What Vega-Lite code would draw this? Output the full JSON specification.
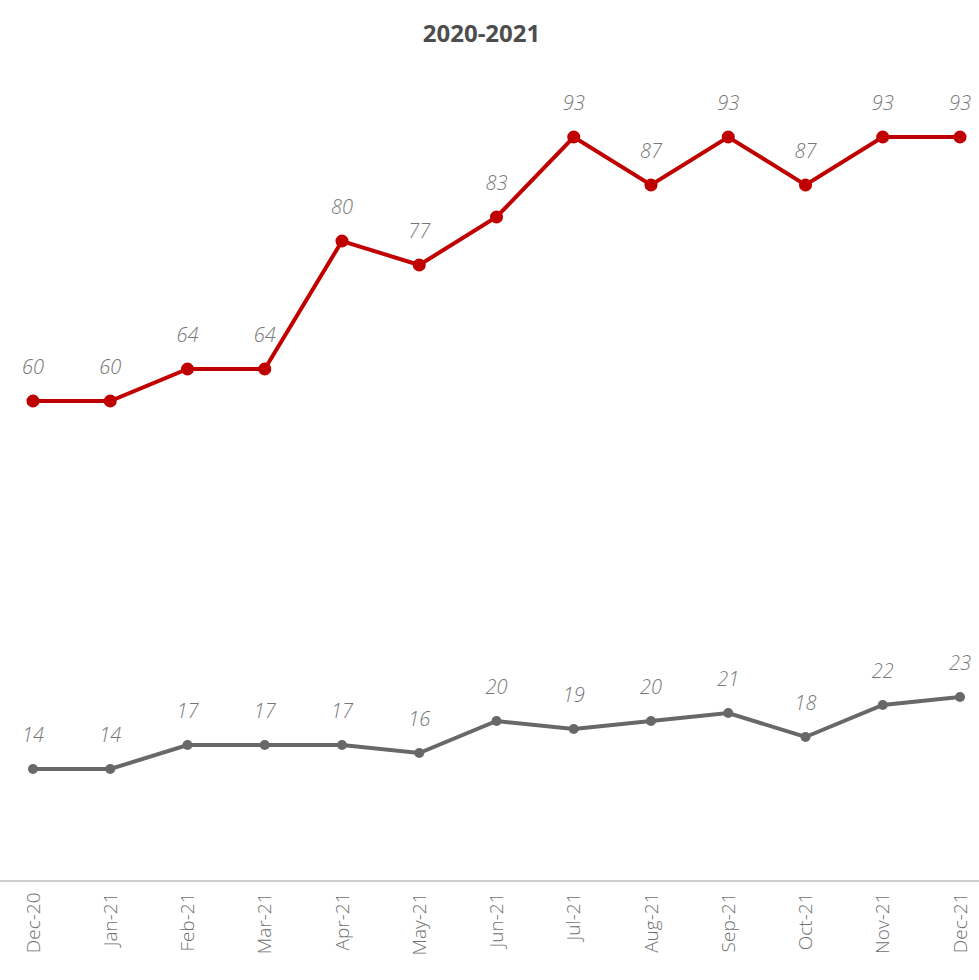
{
  "$schema": "https://vega.github.io/schema/vega-lite/v6.json",
  "width": 979,
  "height": 800,
  "autosize": {"type": "none"},
  "padding": {"top": 81, "left": 0, "right": 0, "bottom": 99},
  "background": "white",
  "title": {
    "text": "2020-2021",
    "font": "Open Sans",
    "fontSize": 24,
    "fontWeight": "bold",
    "color": "#4d4d4d",
    "anchor": "middle",
    "offset": 34,
    "dx": -8
  },
  "config": {"view": {"stroke": null}},
  "data": {
    "values": [
      {"month": "Dec-20", "series": "A", "value": 60},
      {"month": "Jan-21", "series": "A", "value": 60},
      {"month": "Feb-21", "series": "A", "value": 64},
      {"month": "Mar-21", "series": "A", "value": 64},
      {"month": "Apr-21", "series": "A", "value": 80},
      {"month": "May-21", "series": "A", "value": 77},
      {"month": "Jun-21", "series": "A", "value": 83},
      {"month": "Jul-21", "series": "A", "value": 93},
      {"month": "Aug-21", "series": "A", "value": 87},
      {"month": "Sep-21", "series": "A", "value": 93},
      {"month": "Oct-21", "series": "A", "value": 87},
      {"month": "Nov-21", "series": "A", "value": 93},
      {"month": "Dec-21", "series": "A", "value": 93},
      {"month": "Dec-20", "series": "B", "value": 14},
      {"month": "Jan-21", "series": "B", "value": 14},
      {"month": "Feb-21", "series": "B", "value": 17},
      {"month": "Mar-21", "series": "B", "value": 17},
      {"month": "Apr-21", "series": "B", "value": 17},
      {"month": "May-21", "series": "B", "value": 16},
      {"month": "Jun-21", "series": "B", "value": 20},
      {"month": "Jul-21", "series": "B", "value": 19},
      {"month": "Aug-21", "series": "B", "value": 20},
      {"month": "Sep-21", "series": "B", "value": 21},
      {"month": "Oct-21", "series": "B", "value": 18},
      {"month": "Nov-21", "series": "B", "value": 22},
      {"month": "Dec-21", "series": "B", "value": 23}
    ]
  },
  "encoding": {
    "x": {
      "field": "month",
      "type": "ordinal",
      "sort": null,
      "scale": {"type": "point", "range": [33, 960], "padding": 0},
      "axis": {
        "title": null,
        "labelAngle": 270,
        "labelAlign": "right",
        "labelBaseline": "middle",
        "labelPadding": 11,
        "labelFont": "Open Sans",
        "labelFontSize": 19,
        "labelFontWeight": 300,
        "labelColor": "#707070",
        "ticks": false,
        "domain": false,
        "grid": false
      }
    },
    "y": {
      "field": "value",
      "type": "quantitative",
      "scale": {"domain": [0, 100]},
      "axis": null
    },
    "color": {
      "field": "series",
      "type": "nominal",
      "scale": {"domain": ["A", "B"], "range": ["#c00000", "#686868"]},
      "legend": null
    }
  },
  "layer": [
    {
      "mark": {"type": "rule", "color": "#cccccc", "strokeWidth": 1.5},
      "encoding": {
        "x": null,
        "color": null,
        "y": {"datum": 0, "type": "quantitative"}
      }
    },
    {
      "mark": {"type": "line", "strokeWidth": 4}
    },
    {
      "mark": {"type": "circle", "opacity": 1},
      "encoding": {
        "size": {
          "field": "series",
          "type": "nominal",
          "scale": {"domain": ["A", "B"], "range": [170, 100]},
          "legend": null
        }
      }
    },
    {
      "mark": {
        "type": "text",
        "dy": -33,
        "font": "Open Sans",
        "fontSize": 20,
        "fontWeight": 300,
        "fontStyle": "italic",
        "color": "#777777"
      },
      "encoding": {
        "text": {"field": "value", "type": "quantitative"},
        "color": {"value": "#777777"}
      }
    }
  ]
}
